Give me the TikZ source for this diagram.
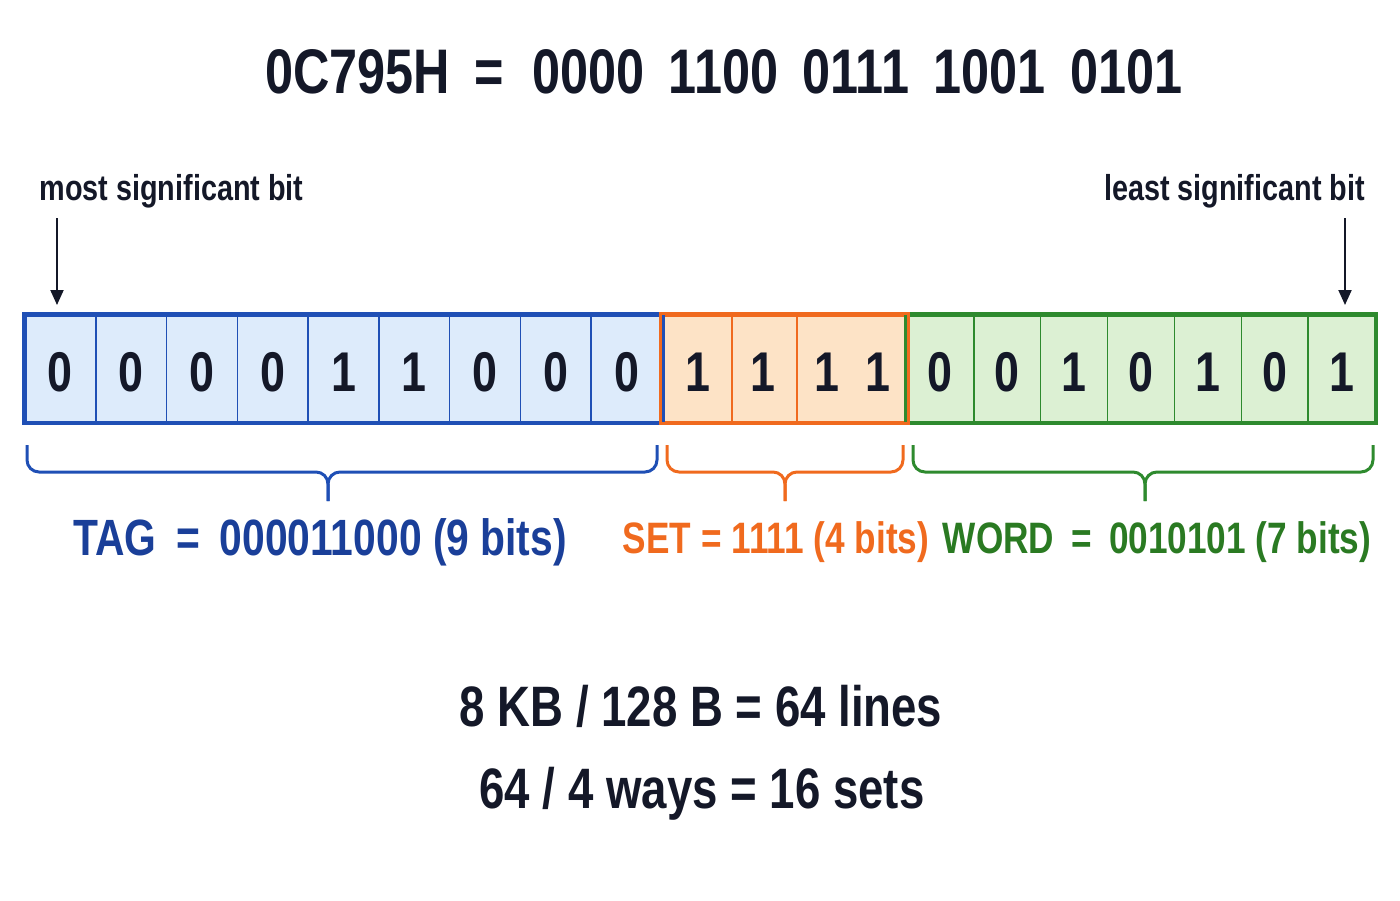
\documentclass[tikz,border=0pt]{standalone}
\usepackage{fontspec}
\setmainfont[FakeStretch=0.8]{Liberation Sans}
\usetikzlibrary{positioning, arrows.meta}

\definecolor{ink}{HTML}{141828}
\definecolor{tagblue}{HTML}{1F4FB5}
\definecolor{tagfill}{HTML}{DDEBFB}
\definecolor{tagtext}{HTML}{1A3F99}
\definecolor{setorange}{HTML}{F06A1E}
\definecolor{setfill}{HTML}{FDE3C6}
\definecolor{wordgreen}{HTML}{2E8A2E}
\definecolor{wordfill}{HTML}{DCF0D3}
\definecolor{wordtext}{HTML}{2A7A22}

\tikzset{
  every label text/.style={anchor=base, text=ink, font=\bfseries},
  field/.style={draw=#1, line width=3pt, minimum height=107pt, inner sep=0pt},
  divider/.style={line width=1.5pt},
  bit/.style={anchor=base, text=ink, font=\fontsize{56}{60}\selectfont\bfseries},
  brace/.style={line width=3pt, rounded corners=12pt},
}

\begin{document}
\begin{tikzpicture}[x=1pt, y=-1pt, >={Triangle[length=15pt, width=13pt]}]
\useasboundingbox (0,0) rectangle (1400,900);

% title
\node [every label text/.try, font=\fontsize{63}{68}\selectfont\bfseries] (title) at (724,93)
  {0C795H\ \,= \ 0000\ \,1100\ \,0111\ \,1001\ \,0101};

% the three fields
\node [field=tagblue, fill=tagfill, minimum width=637] (tag) at (343.5,368.5) {};
\node [field=setorange, fill=setfill, minimum width=245] (set) at (784.5,368.5) {};
\node [field=wordgreen, fill=wordfill, minimum width=468] (word) at (1141,368.5) {};

\foreach \i in {1,...,8}
  \draw [divider, tagblue] (25+\i*70.78,316) -- ++(0,105);
\foreach \x in {732, 797}
  \draw [divider, setorange] (\x,316) -- ++(0,105);
\foreach \i in {1,...,6}
  \draw [divider, wordgreen] (907+\i*66.86,316) -- ++(0,105);

% redraw borders on top
\draw [line width=3pt, tagblue] (tag.north west) rectangle (tag.south east);
\draw [line width=3pt, wordgreen] (word.north west) rectangle (word.south east);
\draw [line width=3pt, setorange] (set.north west) rectangle (set.south east);

% bits
\foreach \b [count=\i] in {0,0,0,0,1,1,0,0,0}
  \node [bit] (tag-\i) at (25+\i*70.78-35.39,391) {\b};

\foreach \b/\x [count=\i] in {1/698, 1/763, 1/827, 1/878}
  \node [bit] (set-\i) at (\x,391) {\b};

\foreach \b [count=\i] in {0,0,1,0,1,0,1}
  \node [bit] (word-\i) at (907+\i*66.86-33.43,391) {\b};

% bit significance
\node [every label text/.try, font=\fontsize{36}{40}\selectfont\bfseries] (msb) at (171.5,200) {most significant bit};
\node [every label text/.try, font=\fontsize{36}{40}\selectfont\bfseries] (lsb) at (1234.5,200) {least significant bit};

\coordinate (msb-tip) at (57,305);
\coordinate (lsb-tip) at (1345,305);
\draw [->, line width=2pt, ink] (msb-tip |- 0,218) -- (msb-tip);
\draw [->, line width=2pt, ink] (lsb-tip |- 0,218) -- (lsb-tip);

% braces
\foreach \l/\r/\m/\c in {27/657/328/tagblue, 667/903/785/setorange, 913/1373/1145/wordgreen} {
  \draw [brace, \c] (\l,445) -- (\l,472) -- (\m,472) -- (\m,501);
  \draw [brace, \c] (\r,445) -- (\r,472) -- (\m,472) -- (\m,501);
}

% field labels
\node [every label text/.try, text=tagtext, font=\fontsize{51}{55}\selectfont\bfseries] (tag-label) at (320,555)
  {TAG \,=\, 000011000 (9 bits)};
\node [every label text/.try, text=setorange, font=\fontsize{44}{50}\selectfont\bfseries] (set-label) at (776,553)
  {SET = 1111 (4 bits)};
\node [every label text/.try, text=wordtext, font=\fontsize{44}{50}\selectfont\bfseries] (word-label) at (1157,553)
  {WORD \,=\, 0010101 (7 bits)};

% cache arithmetic
\node [every label text/.try, font=\fontsize{57}{60}\selectfont\bfseries] (lines) at (701,726)
  {8 KB / 128 B = 64 lines};
\node [every label text/.try, font=\fontsize{57}{60}\selectfont\bfseries] (sets) at (702,808)
  {64 / 4 ways = 16 sets};
\end{tikzpicture}
\end{document}
